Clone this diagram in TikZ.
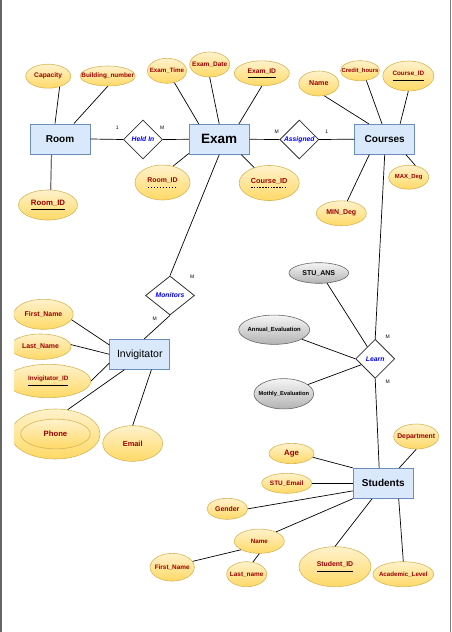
\documentclass[tikz,border=0pt]{standalone}
\usepackage{fontspec}
\setmainfont{Liberation Sans}
\usepackage{xcolor}
\usepackage{tikz}
\usetikzlibrary{shapes}
\usetikzlibrary{arrows}
\definecolor{entfill}{HTML}{DAE8FC}
\definecolor{entline}{HTML}{6C8EBF}
\definecolor{attrtop}{HTML}{FFF2CC}
\definecolor{attrbot}{HTML}{FFD966}
\definecolor{attrline}{HTML}{D6B656}
\definecolor{attrtext}{HTML}{990000}
\definecolor{greytop}{HTML}{F5F5F5}
\definecolor{greybot}{HTML}{B3B3B3}
\definecolor{greyline}{HTML}{666666}
% key underlines (solid and dashed)
\newcommand{\keyline}[1]{\setbox0=\hbox{#1}\rlap{\copy0}\raisebox{-5pt}{\color{black}\rule{\wd0}{0.8pt}}}
\newcommand{\partkeyline}[1]{\setbox0=\hbox{#1}\rlap{\copy0}\raisebox{-5pt}{\color{black}\hbox to \wd0{\xleaders\hbox{\rule{1.6pt}{0.6pt}\hskip1.2pt}\hfill}}}
\tikzset{
	zero box/.style={execute at begin node={\hbox to 0pt\bgroup\hss},execute at end node={\hss\egroup}},
	entity node/.style={rectangle,draw=entline,fill=entfill,line width=0.8pt,inner sep=0pt,zero box,
		minimum width=60pt,minimum height=30pt,font=\fontsize{10}{12}\selectfont\bfseries},
	rel node/.style={diamond,draw=black!80,fill=white,line width=0.8pt,inner sep=0pt,zero box,
		minimum width=39pt,minimum height=39pt,text=blue,font=\fontsize{6.8}{8}\selectfont\bfseries\itshape},
	attr node/.style={ellipse,draw=attrline,top color=attrtop,bottom color=attrbot,line width=0.6pt,
		inner sep=0pt,zero box,text=attrtext,font=\fontsize{#1}{#1}\selectfont\bfseries},
	attr node/.default=6.7,
	grey node/.style={ellipse,draw=greyline,top color=greytop,bottom color=greybot,line width=0.6pt,
		inner sep=0pt,zero box,text=black,font=\fontsize{#1}{#1}\selectfont\bfseries},
	grey node/.default=5.9,
	card/.style={inner sep=0pt,font=\fontsize{5}{6}\selectfont},
	link/.style={draw,line width=0.7pt}
}

\begin{document}
\begin{tikzpicture}[x=1pt,y=-1pt]
	\useasboundingbox (0,0) rectangle (452,632);
	\draw[black!60,line width=1.5pt] (0.75,0) -- (0.75,632);
	\draw[black!50,line width=1pt] (450.5,0) -- (450.5,632);
	\begin{scope}
	\clip (14.3,0) rectangle (452,632);
	% entities
	\node [entity node] (room) at (60,139) {Room};
	\node [entity node,font=\fontsize{13.5}{15}\selectfont\bfseries] (exam) at (219.2,139.3) {Exam};
	\node [entity node] (crs) at (384.7,139.2) {Courses};
	\node [entity node,font=\fontsize{10.5}{12}\selectfont] (inv) at (139.8,354.3) {Invigitator};
	\node [entity node] (stu) at (383.3,483.3) {Students};
	% relationships
	\node [rel node] (held) at (143,139.5) {Held In};
	\node [rel node] (asg) at (299.3,139.5) {Assigned};
	\node [rel node,minimum width=49pt] (mon) at (170,295.5) {Monitors};
	\node [rel node] (lrn) at (375.2,358.8) {Learn};
	% cardinalities
	\node [card] (c1) at (117.3,128) {1};
	\node [card] (c2) at (162.3,128) {M};
	\node [card] (c3) at (276.7,131.3) {M};
	\node [card] (c4) at (326.7,131.3) {1};
	\node [card] (c5) at (192.3,276.7) {M};
	\node [card] (c6) at (154.7,319) {M};
	\node [card] (c7) at (387.7,336.7) {M};
	\node [card] (c8) at (387.7,381.3) {M};
	% room attributes
	\node [attr node,minimum width=45pt,minimum height=24pt] (cap) at (48.2,76.2) {Capacity};
	\node [attr node=6.4,minimum width=55pt,minimum height=20pt] (bnum) at (107.7,76) {Building\_number};
	\node [attr node=7.8,minimum width=59pt,minimum height=30pt] (rid) at (48,205) {\keyline{Room\_ID}};
	% exam attributes
	\node [attr node=6.2,minimum width=39pt,minimum height=25pt] (etime) at (167,70.8) {Exam\_Time};
	\node [attr node=6.5,minimum width=40pt,minimum height=25pt] (edate) at (209.7,64.5) {Exam\_Date};
	\node [attr node,minimum width=55pt,minimum height=25pt] (eid) at (261.8,73.3) {\keyline{Exam\_ID}};
	\node [attr node=6.9,minimum width=55pt,minimum height=35pt] (erid) at (162.5,182.5) {\partkeyline{Room\_ID}};
	\node [attr node=7.3,minimum width=60pt,minimum height=35pt] (ecid) at (269.2,183) {\partkeyline{Course\_ID}};
	% course attributes
	\node [attr node=7.1,minimum width=40pt,minimum height=25pt] (cname) at (318.8,83.5) {Name};
	\node [attr node=5.9,minimum width=39pt,minimum height=20pt] (credit) at (360,70.7) {Credit\_hours};
	\node [attr node=6.3,minimum width=51pt,minimum height=30pt] (cid) at (408.3,76) {\keyline{Course\_ID}};
	\node [attr node=5.9,minimum width=40pt,minimum height=24pt] (maxd) at (408.7,177.2) {MAX\_Deg};
	\node [attr node=7,minimum width=50pt,minimum height=25pt] (mind) at (341.3,213.3) {MIN\_Deg};
	% invigitator attributes
	\node [attr node=6.9,minimum width=59.4pt,minimum height=30pt] (ifn) at (43.5,314.3) {First\_Name};
	\node [attr node=6.9,minimum width=61pt,minimum height=25.4pt] (iln) at (40.5,346.7) {Last\_Name};
	\node [attr node=6.3,minimum width=85pt,minimum height=33.4pt] (iid) at (48.3,381) {\keyline{Invigitator\_ID}};
	\node [attr node,minimum width=89.4pt,minimum height=50pt] (phone) at (55.3,434) {};
	\node [attr node=7.7,minimum width=69.6pt,minimum height=29.7pt] (phone2) at (55.5,434) {Phone};
	\node [attr node=7.4,minimum width=60pt,minimum height=35.6pt] (email) at (132.7,443.5) {Email};
	% learn attributes
	\node [grey node=7,minimum width=59.7pt,minimum height=20.6pt] (stuans) at (318.8,273) {STU\_ANS};
	\node [grey node,minimum width=71pt,minimum height=29.3pt] (annual) at (274.2,329.7) {Annual\_Evaluation};
	\node [grey node=5.7,minimum width=59.7pt,minimum height=30.3pt] (mothly) at (283.8,393.8) {Mothly\_Evaluation};
	% student attributes
	\node [attr node=6.8,minimum width=45pt,minimum height=25pt] (dept) at (416.2,436.5) {Department};
	\node [attr node=7.8,minimum width=45pt,minimum height=20.3pt] (age) at (291.5,453.5) {Age};
	\node [attr node=6.4,minimum width=50pt,minimum height=20pt] (semail) at (286.7,483.3) {STU\_Email};
	\node [attr node=6.9,minimum width=40.7pt,minimum height=21pt] (gender) at (227.3,508.8) {Gender};
	\node [attr node=6.2,minimum width=50pt,minimum height=24.3pt] (sname) at (259.3,541.2) {Name};
	\node [attr node=6.4,minimum width=44.3pt,minimum height=27.7pt] (sfn) at (172.2,567.2) {First\_Name};
	\node [attr node=6.4,minimum width=40pt,minimum height=25pt] (sln) at (246.7,574.2) {Last\_name};
	\node [attr node=6.9,minimum width=72pt,minimum height=40pt] (sid) at (335,566.7) {\keyline{Student\_ID}};
	\node [attr node=6.2,minimum width=60.7pt,minimum height=25pt] (alevel) at (403.3,574.2) {Academic\_Level};
	% links
	\draw[link] (cap.-43) -- (room.108);
	\draw[link] (bnum.-90) -- (room.48);
	\draw[link,draw=black!55,line width=1.2pt] (rid.80) -- (room.-119);
	\draw[link] (room.east) -- (held.west);
	\draw[link] (held.east) -- (exam.west);
	\draw[link] (etime.-58) -- (exam.143);
	\draw[link] (edate.-90) -- (exam.north);
	\draw[link] (eid.-90) -- (exam.38);
	\draw[link] (erid.57) -- (exam.-155);
	\draw[link] (ecid.134) -- (exam.-35);
	\draw[link] (exam.south) -- (mon.north);
	\draw[link] (exam.east) -- (asg.west);
	\draw[link] (asg.east) -- (crs.west);
	\draw[link] (mon.south) -- (inv.74);
	\draw[link] (cname.-66) -- (crs.136);
	\draw[link] (credit.-57) -- (crs.100);
	\draw[link] (cid.-90) -- (crs.45);
	\draw[link] (maxd.60) -- (crs.-36);
	\draw[link] (mind.64) -- (crs.-135);
	\draw[link] (crs.south) -- (lrn.north);
	\draw[link] (stuans.-51) -- (lrn.123);
	\draw[link] (annual.-19) -- (lrn.west);
	\draw[link] (mothly.21) -- (lrn.-157);
	\draw[link] (lrn.south) -- (stu.105);
	\draw[link] (ifn.-11) -- (inv.163);
	\draw[link] (iln.4) -- (inv.west);
	\draw[link] (iid.0) -- (inv.-164);
	\draw[link] (phone.63) -- (inv.-135);
	\draw[link] (email.90) -- (inv.-53);
	\draw[link] (dept.-90) -- (stu.44);
	\draw[link] (age.-10) -- (stu.north west);
	\draw[link] (semail.east) -- (stu.west);
	\draw[link] (gender.east) -- (stu.-166);
	\draw[link] (sname.29) -- (stu.south west);
	\draw[link] (sid.90) -- (stu.-126);
	\draw[link] (alevel.90) -- (stu.-45);
	\draw[link] (sname.-155) -- (sfn.16);
	\draw[link] (sname.-90) -- (sln.63);
	\end{scope}
\end{tikzpicture}
\end{document}
